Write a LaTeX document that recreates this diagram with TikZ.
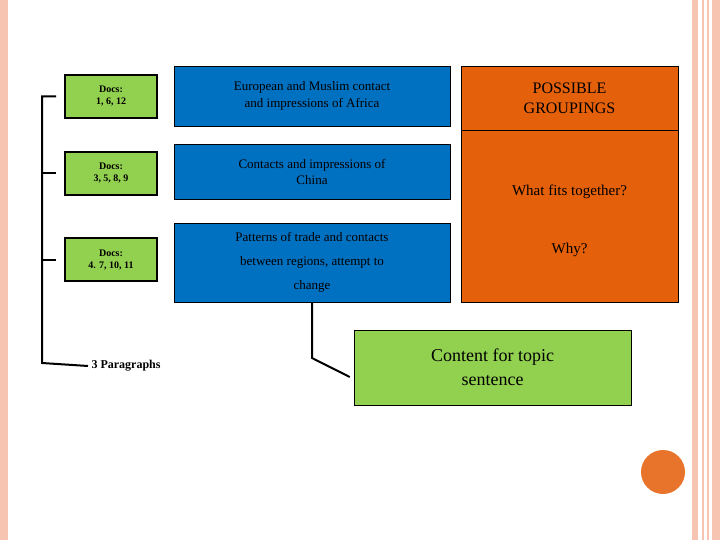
\documentclass[tikz,border=0pt]{standalone}
\usepackage{fontspec}
\setmainfont{Liberation Serif}
\begin{document}
\begin{tikzpicture}[x=1pt,y=-1pt,
 docs/.style={draw=black,line width=2pt,fill=docgreen,font=\bfseries\fontsize{10}{12}\selectfont,align=center,inner sep=0},
 blue/.style={draw=black,line width=0.5pt,fill=topicblue,font=\fontsize{13}{17}\selectfont,align=center,inner sep=0},
 br/.style={line width=2pt}]
\definecolor{docgreen}{RGB}{146,208,80}
\definecolor{topicblue}{RGB}{0,112,192}
\definecolor{orng}{RGB}{228,96,10}
\definecolor{pinkd}{RGB}{248,196,178}
\useasboundingbox (0,0) rectangle (720,540);
\fill[pinkd] (0,0) rectangle (8,540);
\fill[pinkd] (692,0) rectangle (698,540);
\fill[pinkd] (702,0) rectangle (704,540);
\fill[pinkd] (707,0) rectangle (720,540);
\fill[white] (709,0) rectangle (712,540);
\fill[orng!80!pinkd] (663,472) circle (22);
\node[docs,minimum width=92,minimum height=43] (d1) at (111,96.5) {Docs:\\1, 6, 12};
\node[docs,minimum width=92,minimum height=43] (d2) at (111,173.5) {Docs:\\3, 5, 8, 9};
\node[docs,minimum width=92,minimum height=43] (d3) at (111,259.5) {Docs:\\4. 7, 10, 11};
\node[blue,minimum width=276,minimum height=60,align=center] (b1) at (312,96) {European and Muslim contact\\and impressions of Africa};
\node[blue,minimum width=276,minimum height=55,anchor=north,text height=10pt] (b2) at (312,144) {};
\node at (312,172) [font=\fontsize{13}{16}\selectfont,align=center] {Contacts and impressions of\\China};
\node[blue,minimum width=276,minimum height=79] (b3) at (312,262.5) {};
\node at (312,262.5) [font=\fontsize{13}{24}\selectfont,align=center] {Patterns of trade and contacts\\between regions, attempt to\\change};
\fill[orng,draw=black,line width=0.5pt] (461,66) rectangle (678,302);
\node[draw=black,line width=0.5pt,minimum width=217,minimum height=64,inner sep=0,font=\fontsize{16}{20}\selectfont,align=center] (pg) at (569.5,98) {POSSIBLE\\GROUPINGS};
\node[font=\fontsize{15}{18}\selectfont] (wf) at (569.5,192) {What fits together?};
\node[font=\fontsize{15}{18}\selectfont] (why) at (569.5,250) {Why?};
\node[draw=black,line width=0.5pt,fill=docgreen,minimum width=277,minimum height=75,inner sep=0,font=\fontsize{18}{24}\selectfont,align=center] (ct) at (492.5,367.5) {Content for topic\\sentence};
\node[font=\bfseries\fontsize{12}{14}\selectfont,anchor=west] (tp) at (88,366) {3 Paragraphs};
\draw[br] ([xshift=-8]d1.west) -- (42,96.5) -- (42,363) -- (tp.west);
\draw[br] ([xshift=-8]d2.west) -- (42,173.5);
\draw[br] ([xshift=-8]d3.west) -- (42,259.5);
\draw[br] (b3.south) -- (312,358) -- ([xshift=-4,yshift=-9.5]ct.west);
\end{tikzpicture}
\end{document}
